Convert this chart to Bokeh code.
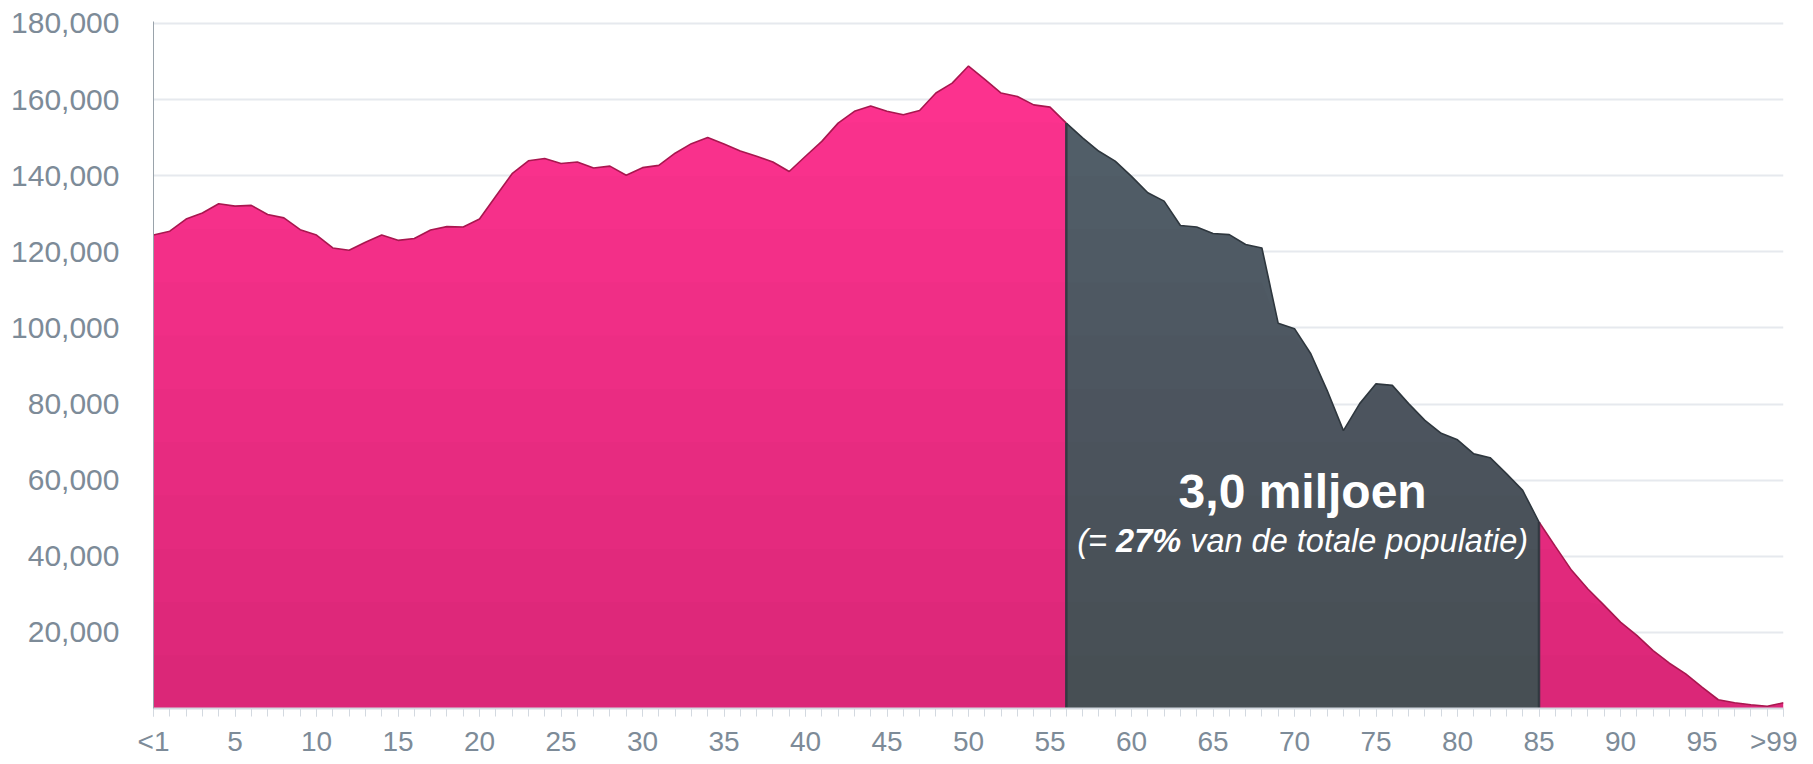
from bokeh.plotting import figure
from bokeh.models import Range1d, FixedTicker, NumeralTickFormatter, Label
from bokeh.embed import file_html
from bokeh.resources import INLINE

# ---- data -------------------------------------------------------------
ages = list(range(101))  # 0 = "<1", 100 = ">99"
population = [
    124400, 125400, 128600, 130200, 132600, 132000, 132200, 129800, 128900, 125800,
    124400, 121000, 120400, 122500, 124400, 123000, 123500, 125700, 126600, 126500,
    128600, 134600, 140500, 143900, 144500, 143200, 143600, 142000, 142500, 140100,
    142100, 142700, 145900, 148400, 150000, 148300, 146500, 145100, 143600, 141100,
    145100, 149000, 153800, 156900, 158300, 156900, 156000, 157100, 161700, 164300,
    168800, 165300, 161700, 160800, 158600, 158000, 153800, 149900, 146400, 143800,
    139800, 135500, 133300, 126900, 126500, 124800, 124500, 121900, 121000, 101200,
    99800, 93200, 83600, 73000, 80100, 85300, 84900, 80100, 75700, 72300,
    70600, 66900, 65900, 61700, 57300, 49000, 42600, 36300, 31400, 27100,
    22700, 19200, 15200, 11900, 9100, 5600, 2300, 1500, 1000, 600,
    1500,
]
highlight_start = 56
highlight_end = 85
x_tick_values = list(range(0, 101, 5))
x_tick_labels = {0: "<1", 100: ">99"}
y_tick_values = [20000, 40000, 60000, 80000, 100000, 120000, 140000, 160000, 180000]
headline = "3,0 miljoen"
sub_pre = "(="
sub_bold = "27%"
sub_post = "van de totale populatie)"

# ---- style ------------------------------------------------------------
PINK = "#FF3390"
PINK_EDGE = "#A8174F"
GRAY = "#53626C"
GRAY_EDGE = "#2E373E"
LABEL = "#7D8B98"
FONT = "Liberation Sans"

p = figure(width=1797, height=760, output_backend="svg", toolbar_location=None,
           x_range=Range1d(0, 100), y_range=Range1d(0, 180500),
           min_border_left=153, min_border_right=14, min_border_top=21,
           min_border_bottom=52)
p.outline_line_color = None
p.background_fill_color = "white"
p.border_fill_color = "white"

# areas
p.varea(x=ages, y1=0, y2=population, fill_color=PINK)
hx = ages[highlight_start:highlight_end + 1]
hy = population[highlight_start:highlight_end + 1]
p.varea(x=hx, y1=0, y2=hy, fill_color=GRAY)

# subtle vertical shading (darker towards the base)
for k in range(1, 13):
    cap = k * 14000
    p.varea(x=ages, y1=0, y2=[min(v, cap) for v in population],
            fill_color="black", fill_alpha=0.012)

# edges
p.line(x=ages[:highlight_start + 1], y=population[:highlight_start + 1],
       line_color=PINK_EDGE, line_width=1.6)
p.line(x=ages[highlight_end:], y=population[highlight_end:],
       line_color=PINK_EDGE, line_width=1.6)
p.line(x=hx, y=hy, line_color=GRAY_EDGE, line_width=1.6)
p.segment(x0=[hx[0], hx[-1]], y0=[0, 0], x1=[hx[0], hx[-1]], y1=[hy[0], hy[-1]],
          line_color=GRAY_EDGE, line_width=2.5, line_alpha=0.9)

# axes
xa = p.xaxis[0]
xa.ticker = FixedTicker(ticks=x_tick_values, minor_ticks=ages)
xa.major_label_overrides = x_tick_labels
xa.axis_line_color = "#D3D9E0"
xa.axis_line_width = 2
xa.major_tick_line_color = "#D3D9E0"
xa.minor_tick_line_color = "#D3D9E0"
xa.major_tick_in = 0
xa.minor_tick_in = 0
xa.major_tick_out = 8
xa.minor_tick_out = 8
xa.major_label_standoff = 9
xa.major_label_text_font = FONT
xa.major_label_text_font_size = "28px"
xa.major_label_text_color = LABEL

ya = p.yaxis[0]
ya.ticker = FixedTicker(ticks=y_tick_values)
ya.formatter = NumeralTickFormatter(format="0,0")
ya.axis_line_color = "#9AA3AB"
ya.axis_line_width = 1
ya.major_tick_line_color = None
ya.minor_tick_line_color = None
ya.major_label_standoff = 28
ya.major_label_text_font = FONT
ya.major_label_text_font_size = "30px"
ya.major_label_text_color = LABEL

p.xgrid.grid_line_color = None
p.ygrid.ticker = FixedTicker(ticks=y_tick_values)
p.ygrid.grid_line_color = "#E6E9EE"
p.ygrid.grid_line_width = 2
p.ygrid.level = "underlay"

# annotation
cx = 70.5
p.add_layout(Label(x=cx, y=57000, text=headline, text_align="center",
                   text_baseline="middle", text_font=FONT, text_font_style="bold",
                   text_font_size="48px", text_color="white"))

fs = 32.5
w_pre = 0.917 * fs
w_space = 0.278 * fs
w_bold = 2.001 * fs
w_post = 10.395 * fs
total = w_pre + w_space + w_bold + w_space + w_post
left = -total / 2
for txt, off, style in [
    (sub_pre, left, "italic"),
    (sub_bold, left + w_pre + w_space, "bold italic"),
    (sub_post, left + w_pre + w_space + w_bold + w_space, "italic"),
]:
    p.add_layout(Label(x=cx, y=43900, x_offset=off, text=txt, text_align="left",
                       text_baseline="middle", text_font=FONT, text_font_style=style,
                       text_font_size=f"{fs}px", text_color="white"))

open("out.html", "w").write(file_html(p, INLINE))
